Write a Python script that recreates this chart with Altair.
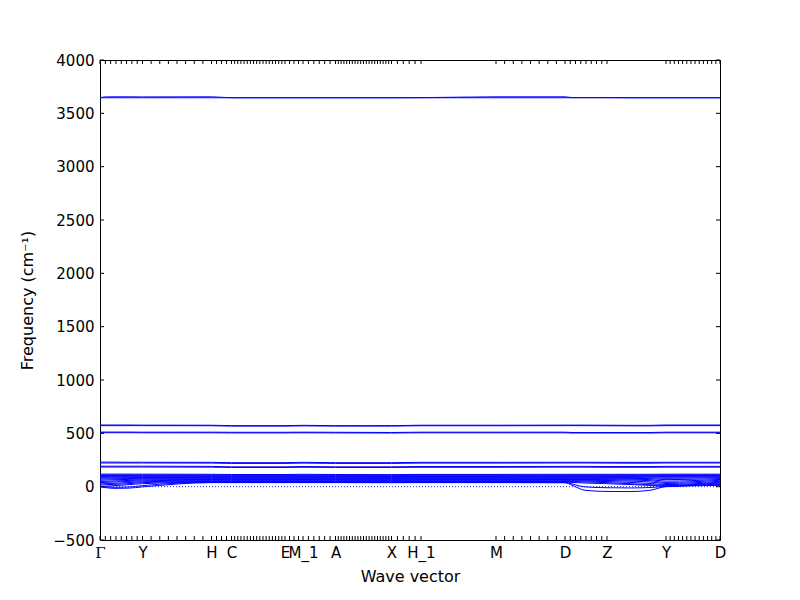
import altair as alt
import numpy as np
import pandas as pd

# High-symmetry points along the path (path distance units) and their labels
path_x = [0, 42.5, 111.5, 131.5, 185, 203, 235.5, 291.5, 321, 396, 465, 507, 566, 620]
path_labels = ["Γ", "Y", "H", "C", "E", "M_1", "A", "X", "H_1", "M", "D", "Z", "Y", "D"]
# number of q-point intervals in each segment (minor ticks)
segment_ticks = [8, 8, 4, 17, 4, 6, 20, 5, 1, 8, 8, 1, 13]

# Knot positions where band frequencies were read
knots = [0, 5, 15, 28, 42.5, 111.5, 131.5, 185, 203, 235.5, 291.5, 321, 396, 465, 472, 485, 507, 530, 550, 566, 620]

bands = {
    "oh1": [3646, 3646, 3646, 3646, 3646, 3646, 3646, 3646, 3646, 3646, 3646, 3646, 3646, 3646, 3646, 3646, 3646, 3646, 3646, 3646, 3646],
    "oh2": [3646, 3654, 3655, 3655, 3654, 3655, 3646, 3646, 3646, 3646, 3646, 3647, 3655, 3655, 3648, 3648, 3648, 3646, 3646, 3646, 3646],
    "b578": [578, 578, 578, 578, 577, 576, 572, 572, 575, 572, 572, 576, 576, 577, 577, 577, 576, 575, 575, 578, 578],
    "b572": [572, 572, 572, 572, 572, 571, 568, 568, 570, 568, 568, 571, 571, 572, 572, 572, 571, 570, 570, 572, 572],
    "b512": [512, 512, 512, 512, 511, 511, 510, 510, 511, 510, 508, 511, 511, 511, 508, 508, 508, 508, 508, 511, 511],
    "b506": [506, 506, 506, 506, 505, 505, 504, 504, 505, 504, 503, 505, 505, 505, 503, 503, 503, 503, 503, 505, 505],
    "b230": [230, 230, 230, 229, 229, 228, 225, 225, 228, 225, 225, 228, 228, 229, 229, 229, 228, 228, 228, 229, 229],
    "b222": [222, 222, 222, 222, 222, 221, 218, 218, 221, 218, 218, 221, 221, 222, 222, 222, 221, 220, 220, 222, 222],
    "b192": [192, 192, 192, 192, 192, 190, 186, 186, 189, 186, 186, 189, 189, 190, 190, 190, 189, 189, 189, 190, 190],
    "b184": [184, 184, 184, 184, 184, 183, 180, 180, 182, 180, 180, 182, 182, 183, 183, 183, 182, 182, 182, 183, 183],
    "d1": [118, 118, 118, 118, 117, 116, 114, 114, 116, 114, 113, 115, 115, 116, 116, 116, 116, 116, 116, 117, 117],
    "d2": [110, 110, 110, 110, 110, 109, 108, 108, 109, 108, 107, 108, 108, 109, 109, 109, 109, 109, 109, 110, 110],
    "d3": [104, 104, 104, 104, 103, 103, 102, 102, 103, 102, 101, 102, 102, 103, 103, 103, 103, 103, 103, 104, 104],
    "d4": [95, 96, 97, 97, 97, 97, 96, 96, 97, 96, 95, 96, 96, 97, 97, 97, 97, 97, 97, 96, 97],
    "d5": [88, 89, 90, 91, 91, 91, 90, 90, 91, 90, 89, 90, 90, 91, 91, 91, 91, 91, 90, 88, 90],
    "d6": [80, 81, 82, 84, 85, 85, 84, 84, 85, 84, 83, 84, 84, 85, 85, 85, 85, 85, 83, 78, 84],
    "d7": [70, 72, 74, 76, 78, 79, 78, 78, 79, 78, 77, 78, 78, 79, 79, 79, 79, 78, 75, 66, 76],
    "d8": [60, 62, 65, 68, 71, 73, 72, 72, 73, 72, 71, 72, 72, 73, 73, 73, 72, 70, 66, 52, 68],
    "d9": [48, 50, 54, 58, 63, 67, 66, 66, 67, 66, 65, 66, 66, 67, 67, 67, 66, 62, 56, 40, 60],
    "d10": [38, 40, 44, 49, 55, 61, 60, 60, 61, 60, 59, 60, 60, 61, 61, 60, 58, 52, 44, 30, 50],
    "d11": [25, 28, 32, 38, 46, 55, 54, 54, 55, 54, 53, 54, 54, 55, 55, 52, 48, 40, 30, 20, 42],
    "d12": [15, 18, 22, 28, 38, 49, 48, 48, 49, 48, 47, 48, 48, 49, 48, 44, 38, 28, 18, 12, 35],
    "a1": [0, 4, 10, 18, 28, 43, 42, 42, 43, 42, 41, 42, 42, 43, 40, 34, 28, 20, 12, 6, 28],
    "a2": [0, -2, -6, -4, 10, 40, 40, 40, 40, 40, 39, 40, 40, 40, 26, -2, -10, -12, -8, 3, 20],
    "a3": [0, -8, -16, -14, -2, 38, 38, 38, 38, 38, 37, 38, 38, 36, 14, -34, -45, -46, -34, 0, 12],
}

y_ticks = [-500, 0, 500, 1000, 1500, 2000, 2500, 3000, 3500, 4000]

rows = []
for name, vals in bands.items():
    for xv, fv in zip(knots, vals):
        rows.append({"band": name, "x": xv, "freq": fv})
df = pd.DataFrame(rows)

tick_x = []
for i, n in enumerate(segment_ticks):
    tick_x.extend(np.linspace(path_x[i], path_x[i + 1], n + 1).tolist())
tick_df = pd.DataFrame({"x": sorted(set(round(t, 4) for t in tick_x))})
ytick_df = pd.DataFrame({"freq": y_ticks})

xscale = alt.Scale(domain=[0, 620], nice=False, zero=False)
yscale = alt.Scale(domain=[-500, 4000], nice=False, zero=False)

label_expr = "[" + ",".join("'%s'" % l for l in path_labels) + "][indexof([" + ",".join(str(v) for v in path_x) + "], datum.value)]"

W, H = 620, 480

lines = alt.Chart(df).mark_line(color="#0000ff", strokeWidth=1, interpolate="monotone", clip=True).encode(
    x=alt.X("x:Q", scale=xscale, title="Wave vector",
            axis=alt.Axis(values=path_x, labelExpr=label_expr, ticks=False, domain=False, grid=False,
                          labelOverlap=False, labelFlush=False, labelBound=False,
                          labelPadding=5, titlePadding=8,
                          labelFont={"condition": {"test": "datum.value == 0", "value": "DejaVu Serif"}, "value": "DejaVu Sans"})),
    y=alt.Y("freq:Q", scale=yscale, title="Frequency (cm⁻¹)",
            axis=alt.Axis(values=y_ticks, ticks=False, domain=False, grid=False, labelPadding=6,
                          titlePadding=17, format="d", labelFlush=False)),
    detail="band:N",
)

zero = alt.Chart(pd.DataFrame({"freq": [0]})).mark_rule(color="#0000ff", strokeWidth=1, strokeDash=[1, 2], opacity=0.85).encode(
    y=alt.Y("freq:Q", scale=yscale)
)

bt = alt.Chart(tick_df).mark_rule(color="black", strokeWidth=1).encode(
    x=alt.X("x:Q", scale=xscale), y=alt.value(H), y2=alt.value(H - 4))
tt = alt.Chart(tick_df).mark_rule(color="black", strokeWidth=1).encode(
    x=alt.X("x:Q", scale=xscale), y=alt.value(0), y2=alt.value(4))
lt = alt.Chart(ytick_df).mark_rule(color="black", strokeWidth=1).encode(
    y=alt.Y("freq:Q", scale=yscale), x=alt.value(0), x2=alt.value(4))
rt = alt.Chart(ytick_df).mark_rule(color="black", strokeWidth=1).encode(
    y=alt.Y("freq:Q", scale=yscale), x=alt.value(W - 4), x2=alt.value(W))

chart = alt.layer(zero, lines, bt, tt, lt, rt).properties(
    width=W, height=H,
    autosize=alt.AutoSizeParams(type="none"),
    padding={"left": 92, "top": 52, "right": 60, "bottom": 50},
    background="white",
).configure_view(stroke="black", strokeWidth=1).configure_axis(
    labelFont="DejaVu Sans", titleFont="DejaVu Sans", labelFontSize=15, titleFontSize=16,
    labelColor="black", titleColor="black", titleFontWeight="normal",
)

chart.save("out.html", embed_options={"renderer": "svg", "actions": False})
